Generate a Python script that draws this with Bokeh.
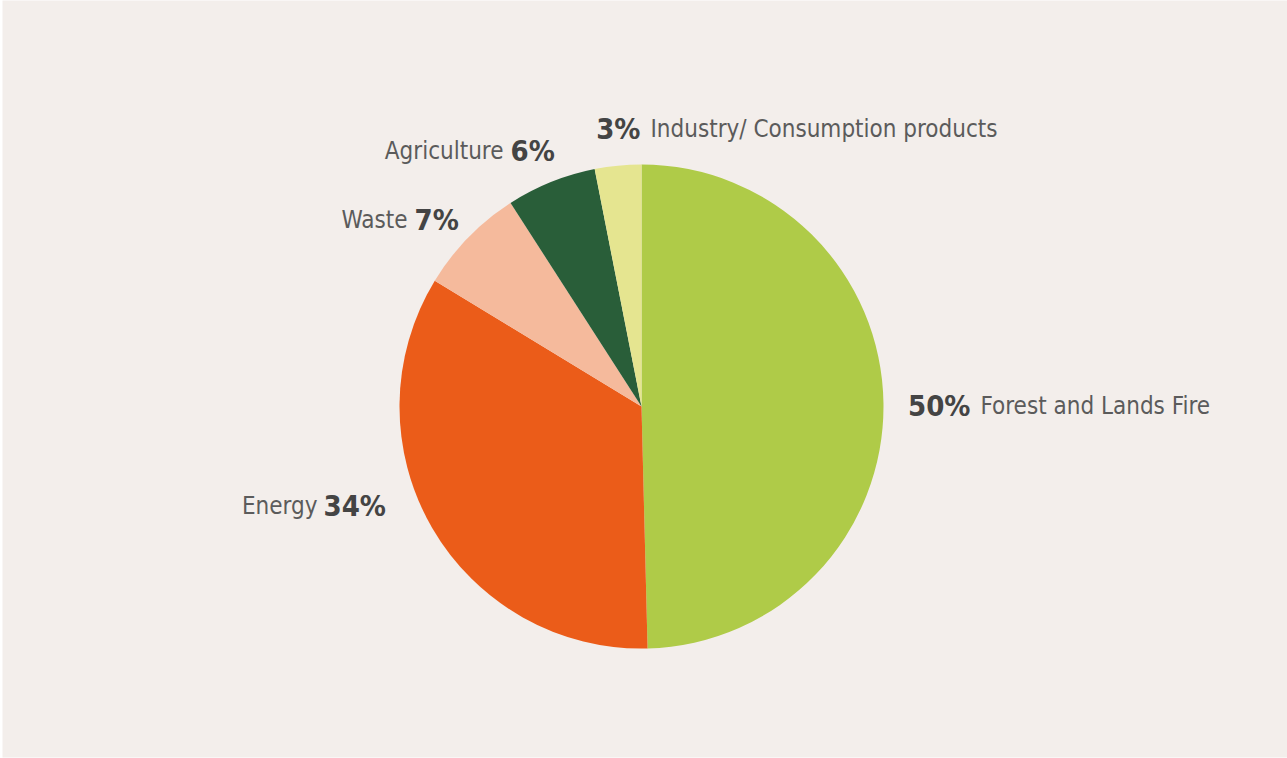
import numpy as np
from bokeh.plotting import figure
from bokeh.models import Range1d, ColumnDataSource
from bokeh.core.properties import value
from bokeh.embed import file_html
from bokeh.resources import INLINE

# ---- data (clockwise from 12 o'clock) ----
categories = ["Forest and Lands Fire", "Energy", "Waste", "Agriculture", "Industry/ Consumption products"]
shares = [49.6, 34.1, 7.2, 6.0, 3.1]
pct_labels = ["50%", "34%", "7%", "6%", "3%"]
colors = ["#AFCB48", "#EB5C19", "#F5BA9C", "#295E39", "#E5E590"]

W, H = 1287, 758
BG = "#F3EEEB"
FONT = "DejaVu Sans Condensed, Roboto Condensed, Roboto, sans-serif"

p = figure(width=W, height=H, output_backend="svg", toolbar_location=None,
           x_range=Range1d(2, W), y_range=Range1d(1, H),
           min_border_left=2, min_border_right=0, min_border_top=0, min_border_bottom=1,
           border_fill_color="white", background_fill_color=BG)
p.axis.visible = False
p.grid.visible = False
p.outline_line_color = None

def sy(y):
    return H - y

# pie wedges
vals = np.array(shares, dtype=float)
frac = vals / vals.sum()
cum = np.concatenate([[0], np.cumsum(frac)])
start = np.pi / 2 - cum[:-1] * 2 * np.pi
end = np.pi / 2 - cum[1:] * 2 * np.pi
src = ColumnDataSource(dict(start=start, end=end, color=colors))
cx, cy, r = 641, sy(406), 242
p.wedge(x=cx, y=cy, radius=r, start_angle="start", end_angle="end",
        direction="clock", fill_color="color", line_color=None, source=src)

# labels: (index, number_x, number_align, label_x, label_align, baseline_y)
REG_SIZE = "24px"
BOLD_SIZE = "29px"
REG_COL = "#5B5B5B"
BOLD_COL = "#444444"

label_layout = [
    (0, 970, "right", 980, "left", 405),
    (1, 323, "left", 317, "right", 505),
    (2, 414, "left", 407, "right", 219),
    (3, 510, "left", 503, "right", 150),
    (4, 640, "right", 650, "left", 128),
]
for i, nx, na, lx, la, by in label_layout:
    p.text(x=[nx], y=[sy(by)], text=[pct_labels[i]], text_font=value(FONT),
           text_font_size=BOLD_SIZE, text_font_style="bold", text_color=BOLD_COL,
           text_align=na, text_baseline="alphabetic")
    p.text(x=[lx], y=[sy(by)], text=[categories[i]], text_font=value(FONT),
           text_font_size=REG_SIZE, text_color=REG_COL,
           text_align=la, text_baseline="alphabetic")

open("out.html", "w").write(file_html(p, INLINE))
